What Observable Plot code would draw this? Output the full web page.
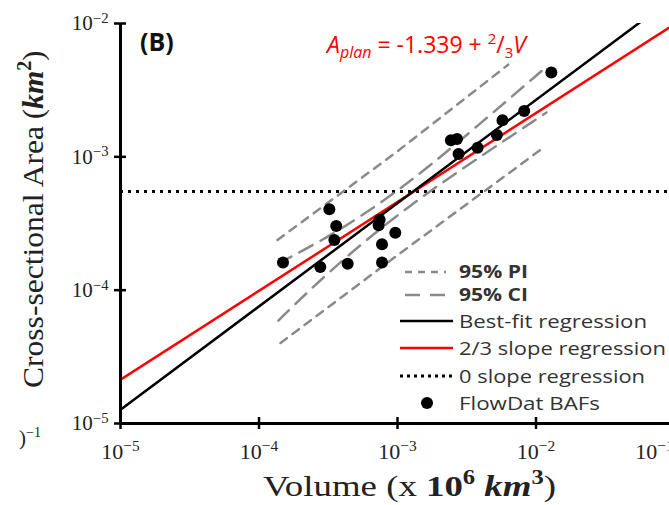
<!DOCTYPE html>
<html><head><meta charset="utf-8">
<script src="https://cdn.jsdelivr.net/npm/d3@7"></script>
<script src="https://cdn.jsdelivr.net/npm/@observablehq/plot@0.6"></script>
<style>
html,body{margin:0;padding:0;background:#fff;overflow:hidden;width:669px;height:505px}
#wrap{position:relative;width:669px;height:505px;overflow:hidden}
#wrap svg{position:absolute;left:0;top:0;max-width:none !important;width:700px !important;height:505px !important}
#frag{position:absolute;z-index:5;left:19px;top:425px;font:21px "Liberation Serif",serif;color:#222}
</style></head><body><div id="wrap"><div id="frag">)<sup style="font-size:14px">−1</sup></div></div>
<script>
// FlowDat BAF observations (Volume x10^6 km^3, Cross-sectional area km^2)
const bafVolume = [1.49e-4, 2.77e-4, 3.22e-4, 3.61e-4, 3.50e-4, 4.37e-4, 7.43e-4, 7.31e-4, 9.64e-4, 7.73e-4, 7.73e-4,
                   2.43e-3, 2.69e-3, 2.76e-3, 3.79e-3, 5.22e-3, 5.73e-3, 8.22e-3, 1.29e-2];
const bafArea   = [1.61e-4, 1.49e-4, 4.04e-4, 3.03e-4, 2.38e-4, 1.58e-4, 3.37e-4, 3.07e-4, 2.70e-4, 2.21e-4, 1.61e-4,
                   1.33e-3, 1.36e-3, 1.05e-3, 1.17e-3, 1.46e-3, 1.88e-3, 2.21e-3, 4.29e-3];

// regression lines (end points)
const lineVolume   = [1e-5, 1e-1];
const bestFitArea  = [1.27e-5, 1.59e-2];
const slope23Area  = [2.13e-5, 9.87e-3];
const zeroSlopeArea = 5.5e-4;

// 95% prediction interval
const piUpperVolume = [1.36e-4, 1.0e-3, 6.3e-3];
const piUpperArea   = [2.38e-4, 1.10e-3, 4.91e-3];
const piLowerVolume = [1.43e-4, 1.0e-3, 1.13e-2];
const piLowerArea   = [4.02e-5, 1.83e-4, 1.17e-3];
// 95% confidence interval
const ciVolume    = [1.38e-4, 3.16e-4, 1.0e-3, 3.16e-3, 1.19e-2];
const ciUpperArea = [1.59e-4, 2.48e-4, 5.41e-4, 1.45e-3, 4.73e-3];
const ciLowerArea = [5.92e-5, 1.37e-4, 3.74e-4, 8.6e-4, 2.15e-3];

const xTicks = [1e-5, 1e-4, 1e-3, 1e-2];
const xEdgeTick = [1e-1];
const yTicks = [1e-5, 1e-4, 1e-3, 1e-2];
const xTickLabels = ["10^-5", "10^-4", "10^-3", "10^-2"];
const xEdgeLabel = ["10^-1"];
const yTickLabels = ["10^-5", "10^-4", "10^-3", "10^-2"];

const legendLabels = ["95% PI", "95% CI", "Best-fit regression", "2/3 slope regression", "0 slope regression", "FlowDat BAFs"];

const pts = bafVolume.map((v, i) => ({v, a: bafArea[i]}));
const zip = (xs, ys) => xs.map((x, i) => ({v: x, a: ys[i]}));

const GRAY = "#8a8a8a";
const plot = Plot.plot({
  width: 700, height: 505,
  marginLeft: 120, marginRight: 26, marginTop: 23, marginBottom: 82,
  x: {type: "log", domain: [1e-5, 1e-1]},
  y: {type: "log", domain: [1e-5, 1e-2]},
  style: {background: "white", overflow: "hidden"},
  marks: [
    Plot.ruleY([zeroSlopeArea], {stroke: "black", strokeWidth: 3, strokeDasharray: "3,5"}),
    Plot.line(zip(piUpperVolume, piUpperArea), {x: "v", y: "a", stroke: GRAY, strokeWidth: 2.5, strokeDasharray: "8,7"}),
    Plot.line(zip(piLowerVolume, piLowerArea), {x: "v", y: "a", stroke: GRAY, strokeWidth: 2.5, strokeDasharray: "8,7"}),
    Plot.line(zip(ciVolume, ciUpperArea), {x: "v", y: "a", curve: "basis", stroke: GRAY, strokeWidth: 2.5, strokeDasharray: "15,9"}),
    Plot.line(zip(ciVolume, ciLowerArea), {x: "v", y: "a", curve: "basis", stroke: GRAY, strokeWidth: 2.5, strokeDasharray: "15,9"}),
    Plot.line(zip(lineVolume, slope23Area), {x: "v", y: "a", stroke: "#ff0000", strokeWidth: 2.5, clip: true}),
    Plot.line(zip(lineVolume, bestFitArea), {x: "v", y: "a", stroke: "black", strokeWidth: 2.5, clip: true}),
    Plot.dot(pts, {x: "v", y: "a", r: 6, fill: "black"}),
    Plot.ruleX([1e-5], {stroke: "black", strokeWidth: 3}),
    Plot.ruleY([1e-5], {stroke: "black", strokeWidth: 3}),
    Plot.ruleX(xTicks, {x: d => d, y1: 1e-5, y2: 1e-5, insetTop: -6, insetBottom: -6, stroke: "black", strokeWidth: 2.5}),
    Plot.ruleY(yTicks, {y: d => d, x1: 1e-5, x2: 1e-5, insetLeft: -6, insetRight: -6, stroke: "black", strokeWidth: 2.5}),
    Plot.axisX(xTicks, {tickSize: 0, tickPadding: 20, tickFormat: d => xTickLabels[xTicks.indexOf(d)], label: null, fontSize: 22, fill: "#222"}),
    Plot.axisX(xEdgeTick, {tickSize: 0, tickPadding: 20, dx: -20, tickFormat: () => xEdgeLabel[0], label: null, fontSize: 22, fill: "#222"}),
    Plot.axisY(yTicks, {tickSize: 0, tickPadding: 12, tickFormat: d => yTickLabels[yTicks.indexOf(d)], label: null, fontSize: 21, fill: "#222"})
  ]
});
document.getElementById("wrap").appendChild(plot);
const svg = d3.select(plot);

// superscript tick labels
svg.selectAll('g[aria-label="x-axis tick label"] text, g[aria-label="y-axis tick label"] text').each(function() {
  const s = this.textContent;
  if (!s.includes("^")) return;
  const [b, e] = s.split("^");
  const t = d3.select(this).text(b).style("font-family", "'Liberation Serif', serif");
  t.append("tspan").attr("dy", "-0.5em").attr("font-size", "0.7em").text(e.replace("-", "−"));
});

// panel tag & equation
svg.append("text").attr("x", 140).attr("y", 51).attr("text-anchor", "start").attr("font-family", "'Open Sans', sans-serif")
  .attr("font-weight", "bold").attr("font-size", 25).attr("fill", "#111").text("(B)");
const eq = svg.append("text").attr("x", 327).attr("y", 53).attr("text-anchor", "start").attr("font-family", "'Open Sans', sans-serif")
  .attr("font-size", 23).attr("fill", "#ff0000");
eq.append("tspan").attr("font-style", "italic").text("A");
eq.append("tspan").attr("font-style", "italic").attr("font-size", 16).attr("dy", 5).text("plan");
eq.append("tspan").attr("dy", -5).text(" = -1.339 + ");
eq.append("tspan").attr("font-size", 15).attr("dy", -9).text("2");
eq.append("tspan").attr("dy", 9).text("/");
eq.append("tspan").attr("font-size", 15).attr("dy", 5).text("3");
eq.append("tspan").attr("font-style", "italic").attr("dy", -5).text("V");

// axis titles
const yl = svg.append("text").attr("transform", "translate(43,0) rotate(-90)").attr("text-anchor", "start")
  .attr("font-family", "'Liberation Serif', serif").attr("font-size", 30).attr("fill", "#222");
yl.append("tspan").attr("x", -388).attr("textLength", 262).attr("lengthAdjust", "spacingAndGlyphs").text("Cross-sectional Area");
yl.append("tspan").attr("x", -119).text("(");
yl.append("tspan").attr("font-weight", "bold").attr("font-style", "italic").text("km");
yl.append("tspan").attr("font-weight", "bold").attr("font-size", 20).attr("dy", -12).text("2");
yl.append("tspan").attr("dy", 12).text(")");

const xl = svg.append("text").attr("x", 263).attr("y", 496).attr("text-anchor", "start")
  .attr("textLength", 293).attr("lengthAdjust", "spacingAndGlyphs")
  .attr("font-family", "'Liberation Serif', serif").attr("font-size", 30).attr("fill", "#222");
xl.append("tspan").text("Volume (x ");
xl.append("tspan").attr("font-weight", "bold").text("10");
xl.append("tspan").attr("font-weight", "bold").attr("font-size", 20).attr("dy", -12).text("6");
xl.append("tspan").attr("dy", 12).text(" ");
xl.append("tspan").attr("font-weight", "bold").attr("font-style", "italic").text("km");
xl.append("tspan").attr("font-weight", "bold").attr("font-size", 20).attr("dy", -12).text("3");
xl.append("tspan").attr("dy", 12).text(")");

// legend
const legY = [272, 295, 321, 348, 376, 403];
const legW = [69, 69, 188, 207, 186, 141];
const lg = svg.append("g").attr("text-anchor", "start").attr("font-family", "'Open Sans', sans-serif").attr("fill", "#333");
const samples = [
  {stroke: GRAY, dash: "7,6"}, {stroke: GRAY, dash: "15,10"}, {stroke: "black"}, {stroke: "#ff0000"}, {stroke: "black", dash: "3,4"}, null
];
legendLabels.forEach((lab, i) => {
  const s = samples[i];
  if (s) {
    lg.append("line").attr("x1", i < 2 ? 405 : 400).attr("x2", i < 2 ? 446 : 453).attr("y1", legY[i]).attr("y2", legY[i])
      .attr("stroke", s.stroke).attr("stroke-width", i === 4 ? 3 : 2.5).attr("stroke-dasharray", s.dash || null);
  } else {
    lg.append("circle").attr("cx", 427).attr("cy", legY[i]).attr("r", 6).attr("fill", "black");
  }
  lg.append("text").attr("x", 459).attr("y", legY[i]).attr("dy", "0.36em")
    .attr("font-size", i < 2 ? 17.5 : 19)
    .attr("textLength", legW[i]).attr("lengthAdjust", "spacingAndGlyphs")
    .attr("font-weight", i < 2 ? "bold" : null).text(lab);
});
</script></body></html>
